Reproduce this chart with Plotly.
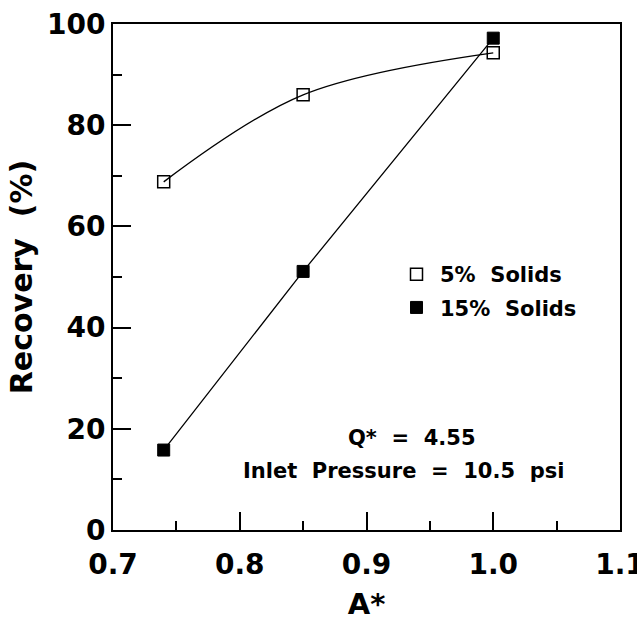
import plotly.graph_objects as go

# Data
a_star = [0.74, 0.85, 1.0]
rec_5 = [68.8, 86.0, 94.3]
rec_15 = [15.8, 51.1, 97.2]
series_names = ["5%  Solids", "15%  Solids"]
x_ticks = [0.7, 0.8, 0.9, 1.0, 1.1]
y_ticks = [0, 20, 40, 60, 80, 100]

FONT = "DejaVu Sans"

fig = go.Figure()

# Lines
fig.add_trace(go.Scatter(x=a_star, y=rec_5, mode="lines", line=dict(color="black", width=1.3, shape="spline", smoothing=1.0),
                         showlegend=False, hoverinfo="skip"))
fig.add_trace(go.Scatter(x=a_star, y=rec_15, mode="lines", line=dict(color="black", width=1.3),
                         showlegend=False, hoverinfo="skip"))
# Markers
fig.add_trace(go.Scatter(x=a_star, y=rec_5, mode="markers", name=series_names[0], legendgroup="a",
                         marker=dict(symbol="square-open", size=12, color="black", line=dict(width=1.5, color="black"))))
fig.add_trace(go.Scatter(x=a_star, y=rec_15, mode="markers", name=series_names[1], legendgroup="b",
                         marker=dict(symbol="square", size=12, color="black", line=dict(width=1, color="black"))))

fig.update_layout(
    width=637, height=624,
    margin=dict(l=113, r=17, t=24, b=94, autoexpand=False),
    paper_bgcolor="white", plot_bgcolor="white",
    font=dict(family=FONT, color="black"),
    showlegend=True,
    legend=dict(x=(393 - 113) / 507, y=(530 - 254) / 506, xanchor="left", yanchor="top",
                bgcolor="rgba(0,0,0,0)", borderwidth=0,
                font=dict(family=FONT, size=21, weight="bold", color="black"),
                itemwidth=37, tracegroupgap=3, traceorder="grouped"),
    xaxis=dict(range=[0.7, 1.1], tickvals=x_ticks, ticktext=[f"{v:.1f}" for v in x_ticks],
               ticks="inside", ticklen=18, tickwidth=1.5, tickcolor="black",
               minor=dict(dtick=0.05, tick0=0.7, ticks="inside", ticklen=9, tickwidth=1.5, tickcolor="black"),
               showline=True, linecolor="black", linewidth=2, mirror=True,
               showgrid=False, zeroline=False, automargin=False,
               tickfont=dict(family=FONT, size=28, weight="bold", color="black"),
               ticklabelstandoff=8, ticklabeloverflow="allow",
               title=dict(text="A*", font=dict(family=FONT, size=29, weight="bold", color="black"), standoff=14)),
    yaxis=dict(range=[0, 100], tickvals=y_ticks,
               ticks="inside", ticklen=18, tickwidth=1.5, tickcolor="black",
               minor=dict(dtick=10, tick0=0, ticks="inside", ticklen=9, tickwidth=1.5, tickcolor="black"),
               showline=True, linecolor="black", linewidth=2, mirror=True,
               showgrid=False, zeroline=False, automargin=False,
               tickfont=dict(family=FONT, size=28, weight="bold", color="black"),
               ticklabelstandoff=0, ticklabeloverflow="allow",
               title=dict(text="Recovery  (%)", font=dict(family=FONT, size=30, weight="bold", color="black"), standoff=5)),
)

fig.add_annotation(x=(412 - 113) / 507, y=(530 - 452) / 506, xref="paper", yref="paper",
                   text="Q*  =  4.55", showarrow=False,
                   font=dict(family=FONT, size=21, weight="bold", color="black"))
fig.add_annotation(x=(403 - 113) / 507, y=(530 - 485) / 506, xref="paper", yref="paper",
                   text="Inlet  Pressure  =  10.5  psi", showarrow=False,
                   font=dict(family=FONT, size=21, weight="bold", color="black"))

fig.write_html("out.html")
